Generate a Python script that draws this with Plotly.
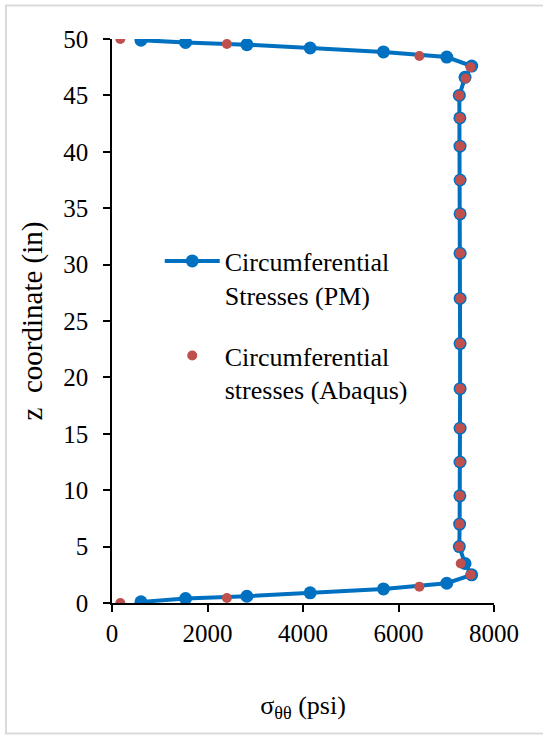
import plotly.graph_objects as go

# PM (blue line + markers)
z_pm = [0.1, 0.4, 0.6, 0.9, 1.25, 1.75, 2.5, 3.5, 5, 7, 9.5, 12.5, 15.5, 19, 23, 27,
        31, 34.5, 37.5, 40.5, 43, 45, 46.6, 47.6, 48.4, 48.85, 49.2, 49.5, 49.7, 49.9]
s_pm = [607, 1540, 2825, 4150, 5685, 7010, 7533, 7393, 7274, 7280, 7285, 7288, 7290, 7290, 7290, 7290,
        7290, 7290, 7290, 7288, 7285, 7274, 7393, 7533, 7010, 5685, 4150, 2825, 1540, 607]

# Abaqus (red markers)
z_ab = [0, 0.45, 1.45, 2.5, 3.5, 5, 7, 9.5, 12.5, 15.5, 19, 23, 27, 31, 34.5, 37.5,
        40.5, 43, 45, 46.5, 47.5, 48.5, 49.55, 50]
s_ab = [174, 2406, 6437, 7512, 7303, 7274, 7280, 7285, 7288, 7290, 7290, 7290, 7290, 7290, 7290, 7290,
        7290, 7288, 7274, 7407, 7512, 6437, 2406, 174]

x_ticks = [0, 2000, 4000, 6000, 8000]
y_ticks = [0, 5, 10, 15, 20, 25, 30, 35, 40, 45, 50]

FONT = "Liberation Serif"

fig = go.Figure()
fig.add_trace(go.Scatter(
    x=s_pm, y=z_pm, mode="lines+markers",
    name="Circumferential<br>Stresses (PM)",
    line=dict(color="#0070C0", width=4),
    marker=dict(color="#0070C0", size=13),
    legendgroup="a",
))
fig.add_trace(go.Scatter(
    x=s_ab, y=z_ab, mode="markers",
    name="Circumferential<br>stresses (Abaqus)",
    marker=dict(color="#C0504D", size=10),
    legendgroup="b",
))

L, R, T, B = 112, 49, 39, 133
W, H = 543, 736
pw = W - L - R
ph = H - T - B

fig.update_layout(
    width=W, height=H,
    margin=dict(l=L, r=R, t=T, b=B),
    paper_bgcolor="white", plot_bgcolor="white",
    font=dict(family=FONT, size=25, color="black"),
    showlegend=True,
    legend=dict(
        x=0.125, y=0.648, xanchor="left", yanchor="top",
        bgcolor="rgba(0,0,0,0)",
        font=dict(family=FONT, size=26, color="black"),
        itemwidth=55, valign="top", tracegroupgap=24,
    ),
    xaxis=dict(
        range=[0, 8000], tickvals=x_ticks, ticktext=[str(v) for v in x_ticks],
        showline=True, linecolor="black", linewidth=1.5,
        ticks="outside", ticklen=7, tickwidth=1.5, tickcolor="black",
        showgrid=False, zeroline=False,
        tickfont=dict(family=FONT, size=25),
        title=dict(text="σ<sub>θθ</sub> (psi)", font=dict(family=FONT, size=26), standoff=50),
    ),
    yaxis=dict(
        range=[0, 50], tickvals=y_ticks, ticktext=[str(v) for v in y_ticks],
        showline=True, linecolor="black", linewidth=1.5,
        ticks="outside", ticklen=7, tickwidth=1.5, tickcolor="black",
        showgrid=False, zeroline=False,
        tickfont=dict(family=FONT, size=25), ticklabelstandoff=10,
        title=dict(text="z  coordinate (in)", font=dict(family=FONT, size=29), standoff=12),
    ),
    shapes=[dict(
        type="rect", xref="paper", yref="paper",
        x0=(6 - L) / pw, x1=(546 - L) / pw,
        y0=(H - B - 733.5) / ph, y1=(H - B - 5.5) / ph,
        line=dict(color="#d9d9d9", width=2), fillcolor="rgba(0,0,0,0)", layer="below",
    )],
)

fig.write_html("out.html")
